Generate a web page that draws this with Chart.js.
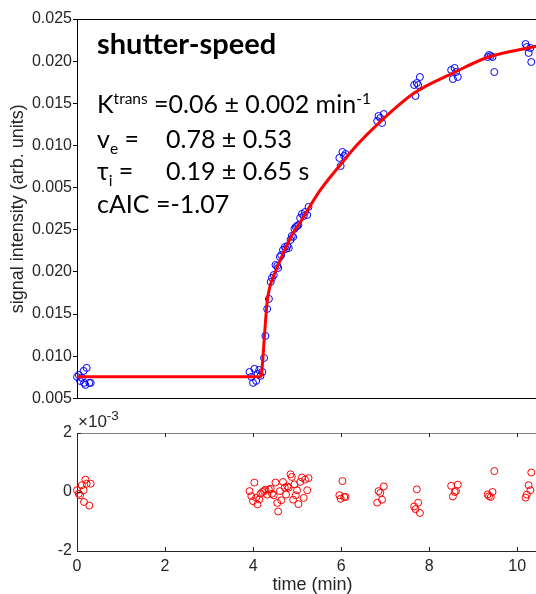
<!DOCTYPE html>
<html>
<head>
<meta charset="utf-8">
<script src="https://cdn.jsdelivr.net/npm/chart.js@4"></script>
<style>
body{margin:0;overflow:hidden;background:#fff;}
#wrap{position:relative;width:536px;height:594px;overflow:hidden;}
canvas{position:absolute;left:0;}
.note{position:absolute;font-family:Lato,sans-serif;color:#000;white-space:nowrap;font-size:25px;line-height:25px;}
.note sup,.note sub{font-size:0.62em;line-height:0;}
.mult{position:absolute;font-family:"Liberation Sans",Arial,sans-serif;color:#262626;font-size:17px;line-height:17px;white-space:nowrap;}
.mult sup{font-size:0.8em;line-height:0;}
</style>
</head>
<body>
<div id="wrap">
<canvas id="topChart" width="553" height="409" style="top:0;width:553px;height:409px"></canvas>
<canvas id="resChart" width="553" height="187" style="top:409px;width:553px;height:187px"></canvas>

<div class="note" style="left:97px;top:28px;font-size:29px;line-height:29px;font-weight:bold">shutter-speed</div>
<div class="note" style="left:97px;top:91px">K<sup>trans</sup> =0.06 ± 0.002 min<sup>-1</sup></div>
<div class="note" style="left:97px;top:126px">v<sub>e</sub> =</div>
<div class="note" style="left:166px;top:126px">0.78 ± 0.53</div>
<div class="note" style="left:97px;top:158px">τ<sub>i</sub> =</div>
<div class="note" style="left:166px;top:158px">0.19 ± 0.65 s</div>
<div class="note" style="left:97px;top:191px">cAIC =-1.07</div>
<div class="mult" style="left:78px;top:413px">×10<sup>-3</sup></div>
</div>

<script>
// sample times (min)
var sampleTime = [0.00,0.04,0.07,0.11,0.15,0.16,0.19,0.22,0.28,0.31,
  3.92,3.96,4.00,4.03,4.07,4.10,4.14,4.17,4.21,
  4.25,4.28,4.32,4.36,4.40,4.43,4.47,4.51,4.55,4.57,4.61,4.64,4.68,4.72,4.75,4.78,4.81,4.85,4.88,4.91,4.94,4.97,5.00,5.03,5.07,5.11,5.15,5.18,5.23,5.26,
  5.96,5.99,6.03,6.07,6.10,
  6.82,6.85,6.89,6.93,6.97,
  7.66,7.69,7.72,7.75,7.79,
  8.50,8.54,8.58,8.61,8.65,
  9.33,9.36,9.40,9.44,9.48,
  10.19,10.22,10.26,10.30,10.32];
// measured signal
var signal = [0.00755,0.00779,0.00707,0.00743,0.00826,0.00684,0.00660,0.00862,0.00684,0.00684,
  0.00814,0.00755,0.00684,0.00850,0.00707,0.00790,0.00838,0.00767,0.00814,
  0.00980,0.01241,0.01561,0.01680,0.01881,0.01929,0.01964,0.02083,0.02071,0.02047,0.02178,0.02201,0.02261,0.02296,0.02273,0.02308,0.02284,0.02379,0.02427,0.02415,0.02510,0.02533,0.02545,0.02557,0.02640,0.02688,0.02664,0.02711,0.02676,0.02771,
  0.03352,0.03257,0.03423,0.03375,0.03399,
  0.03790,0.03850,0.03826,0.03767,0.03873,
  0.04217,0.04087,0.04241,0.04217,0.04312,
  0.04395,0.04288,0.04419,0.04371,0.04312,
  0.04549,0.04573,0.04561,0.04549,0.04371,
  0.04703,0.04668,0.04597,0.04656,0.04490];
// residuals (x 10^-3)
var residual = [0.06,-0.06,-0.11,0.23,0.06,-0.34,0.42,0.28,-0.46,0.28,
  0.03,-0.14,-0.31,0.32,-0.19,-0.42,-0.25,-0.06,0.00,
  0.03,0.08,-0.09,0.08,0.11,-0.06,-0.11,0.32,-0.37,-0.66,0.03,-0.28,0.34,0.15,-0.09,0.19,0.15,0.60,0.51,-0.26,0.26,-0.11,0.06,-0.41,0.34,0.49,-0.20,0.42,0.06,0.47,
  -0.11,-0.23,0.37,-0.17,-0.17,
  -0.36,0.03,-0.03,-0.26,0.19,
  -0.49,-0.58,0.09,-0.36,-0.71,
  0.21,-0.15,0.00,0.03,0.25,
  -0.08,-0.14,-0.17,0.00,0.71,
  -0.19,-0.09,0.23,0.06,0.66];
// model fit
var fitTime = [0,4.18,4.22,4.26,4.32,4.38,4.45,4.56,4.71,4.86,5.09,5.24,5.53,5.98,6.36,6.88,7.66,8.54,9.35,10.25,10.70];
var fitValue = [0.00758,0.00758,0.00956,0.01253,0.01644,0.01822,0.01929,0.02071,0.02249,0.02415,0.02605,0.02735,0.02972,0.03269,0.03506,0.03778,0.04122,0.04359,0.04549,0.04656,0.04703];

var yTickValues = [0.005,0.010,0.015,0.020,0.025,0.030,0.035,0.040,0.045,0.050];
var yTickLabels = ['0.005','0.010','0.015','0.020','0.025','0.005','0.010','0.015','0.020','0.025'];
var xTickValues = [0,2,4,6,8,10];
var resTickValues = [-2,0,2];
var xMax = 10.70;

var tickFont = {family:'Liberation Sans', size:16};
var titleFont = {family:'Liberation Sans', size:18};
var ink = '#262626';

function pts(xs, ys){ return xs.map(function(t,i){ return {x:t, y:ys[i]}; }); }

const topFrame = {
  id:'topFrame',
  afterDraw(chart){
    const ctx = chart.ctx, a = chart.chartArea;
    ctx.save();
    ctx.strokeStyle = '#000'; ctx.lineWidth = 1;
    ctx.beginPath();
    ctx.moveTo(a.left, Math.round(a.top)+0.5); ctx.lineTo(chart.width, Math.round(a.top)+0.5);
    ctx.stroke();
    ctx.restore();
  }
};

const resFrame = {
  id:'resFrame',
  afterDraw(chart){
    const ctx = chart.ctx, a = chart.chartArea, x = chart.scales.x, y = chart.scales.y;
    ctx.save();
    ctx.lineWidth = 1;
    ctx.strokeStyle = '#808080';
    ctx.beginPath();
    ctx.moveTo(a.left, Math.round(a.top)+0.5); ctx.lineTo(chart.width, Math.round(a.top)+0.5);
    ctx.stroke();
    ctx.strokeStyle = ink;
    ctx.beginPath();
    x.ticks.forEach(function(t){
      const px = Math.round(x.getPixelForValue(t.value))+0.5;
      ctx.moveTo(px, a.bottom); ctx.lineTo(px, a.bottom-4);
      ctx.moveTo(px, a.top); ctx.lineTo(px, a.top+4);
    });
    y.ticks.forEach(function(t){
      const py = Math.round(y.getPixelForValue(t.value))+0.5;
      ctx.moveTo(a.left, py); ctx.lineTo(a.left+4, py);
    });
    ctx.stroke();
    ctx.restore();
  }
};

new Chart(document.getElementById('topChart'), {
  type:'scatter',
  data:{ datasets:[
    { type:'line', data:pts(fitTime, fitValue), borderColor:'#ff0000', borderWidth:3, pointRadius:0, cubicInterpolationMode:'monotone', fill:false, clip:false },
    { data:pts(sampleTime, signal), pointStyle:'circle', pointRadius:3.5, borderColor:'#0000ff', backgroundColor:'rgba(0,0,0,0)', borderWidth:1, clip:false }
  ]},
  options:{
    responsive:false, animation:false,
    layout:{padding:{top:19, bottom:10.5, left:0, right:0}},
    plugins:{legend:{display:false}, tooltip:{enabled:false}},
    scales:{
      x:{type:'linear', min:0, max:xMax,
        ticks:{display:false}, grid:{display:false, drawTicks:false},
        border:{display:true, color:'#000', width:1},
        afterFit:function(s){ s.height = 0; }},
      y:{min:0.005, max:0.05,
        afterBuildTicks:function(s){ s.ticks = yTickValues.map(function(v){ return {value:v}; }); },
        ticks:{callback:function(v,i){ return yTickLabels[i]; }, font:tickFont, color:ink, padding:1},
        grid:{drawOnChartArea:false, drawTicks:true, tickLength:4, color:'#000'},
        border:{color:'#000', width:1},
        title:{display:true, text:'signal intensity (arb. units)', font:titleFont, color:ink, padding:{top:7, bottom:0}},
        afterFit:function(s){ s.width = 77; }}
    }
  },
  plugins:[topFrame]
});

new Chart(document.getElementById('resChart'), {
  type:'scatter',
  data:{ datasets:[
    { data:pts(sampleTime, residual), pointStyle:'circle', pointRadius:3.5, borderColor:'#ff0000', backgroundColor:'rgba(0,0,0,0)', borderWidth:1, clip:false }
  ]},
  options:{
    responsive:false, animation:false,
    layout:{padding:{top:24, bottom:0, left:0, right:0}},
    plugins:{legend:{display:false}, tooltip:{enabled:false}},
    scales:{
      x:{type:'linear', min:0, max:xMax,
        afterBuildTicks:function(s){ s.ticks = xTickValues.map(function(v){ return {value:v}; }); },
        ticks:{font:tickFont, color:ink, padding:6},
        grid:{display:false, drawTicks:false},
        border:{display:true, color:ink, width:1},
        title:{display:true, text:'time (min)', font:titleFont, color:ink, padding:{top:0, bottom:0}},
        afterFit:function(s){ s.height = 45; }},
      y:{min:-2, max:2,
        afterBuildTicks:function(s){ s.ticks = resTickValues.map(function(v){ return {value:v}; }); },
        ticks:{font:tickFont, color:ink, padding:5},
        grid:{display:false, drawTicks:false},
        border:{display:true, color:ink, width:1},
        afterFit:function(s){ s.width = 77; }}
    }
  },
  plugins:[resFrame]
});
</script>
</body>
</html>
